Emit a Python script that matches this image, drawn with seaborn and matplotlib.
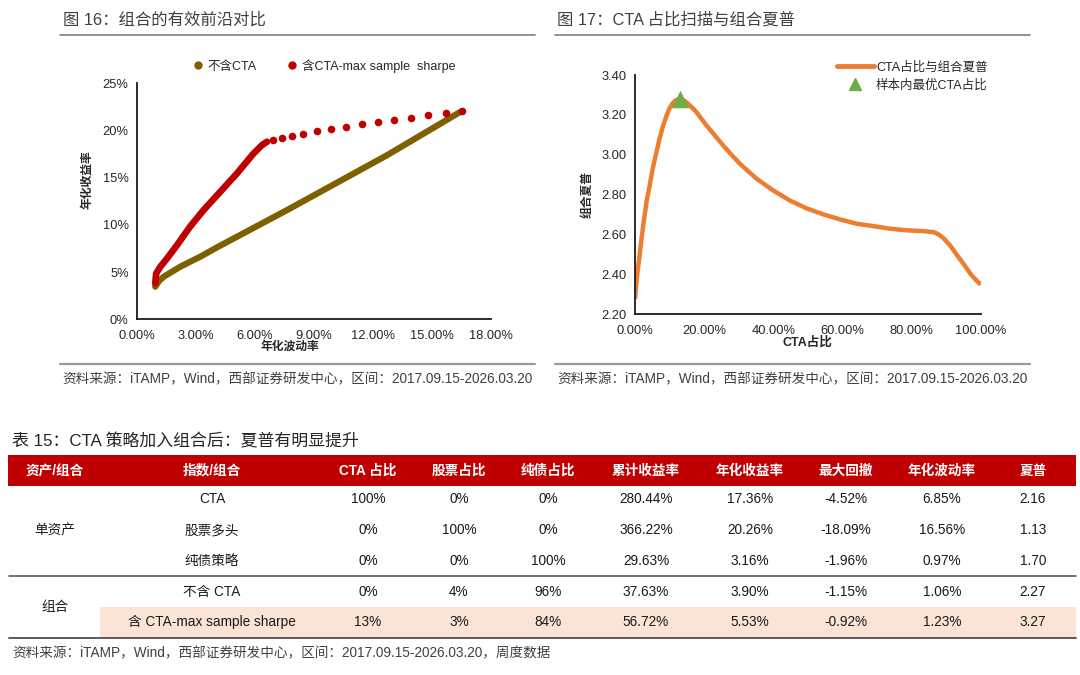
import numpy as np
import pandas as pd
import matplotlib.pyplot as plt
import seaborn as sns
from matplotlib.lines import Line2D
from matplotlib.patches import Rectangle

# ---- chart 16: efficient frontiers (vol %, return %) ----
no_cta_vol = [0.93, 1.10, 1.36, 2.20, 3.22, 4.10, 7.64, 12.74, 16.47]
no_cta_ret = [3.45, 4.00, 4.51, 5.57, 6.63, 7.65, 11.57, 17.39, 21.98]

cta_dense_vol = [0.93, 0.95, 0.98, 1.19, 1.53, 2.04, 2.70, 3.39, 4.24, 5.09, 5.94, 6.37, 6.62]
cta_dense_ret = [3.80, 4.30, 4.87, 5.57, 6.45, 7.86, 9.81, 11.57, 13.51, 15.45, 17.58, 18.46, 18.81]
cta_dot_vol = [6.93, 7.37, 7.90, 8.47, 9.17, 9.88, 10.66, 11.46, 12.26, 13.11, 13.96, 14.84, 15.71, 16.56]
cta_dot_ret = [18.99, 19.17, 19.45, 19.66, 19.91, 20.15, 20.40, 20.65, 20.86, 21.11, 21.32, 21.61, 21.82, 22.07]

# ---- chart 17: CTA weight scan vs sharpe ----
cta_weight = [0.0, 0.29, 0.77, 1.26, 1.94, 2.71, 3.39, 4.16, 5.13, 6.10, 7.07, 8.03, 9.00, 9.97,
              10.94, 11.91, 12.88, 13.84, 14.81, 15.78, 17.72, 20.62, 23.04, 25.46, 27.88, 30.30,
              35.1, 40.0, 44.8, 49.7, 54.5, 59.3, 64.2, 69.0, 73.9, 78.7, 83.5, 86.4, 87.9, 89.4,
              91.3, 93.2, 95.2, 97.1, 99.0, 100.0]
port_sharpe = [2.275, 2.334, 2.418, 2.485, 2.586, 2.687, 2.770, 2.838, 2.930, 3.005, 3.078, 3.140,
               3.190, 3.232, 3.260, 3.274, 3.279, 3.274, 3.264, 3.249, 3.215, 3.148, 3.098, 3.047,
               3.000, 2.955, 2.88, 2.82, 2.77, 2.73, 2.70, 2.675, 2.653, 2.641, 2.628, 2.62, 2.616,
               2.611, 2.599, 2.578, 2.541, 2.494, 2.448, 2.40, 2.364, 2.348]
best_weight = [13.0]
best_sharpe = [3.28]

# ---- table 15 ----
header = ['资产/组合', '指数/组合', 'CTA 占比', '股票占比', '纯债占比',
          '累计收益率', '年化收益率', '最大回撤', '年化波动率', '夏普']
groups = ['单资产', '组合']
names = ['CTA', '股票多头', '纯债策略', '不含 CTA', '含 CTA-max sample sharpe']
cta_w = ['100%', '0%', '0%', '0%', '13%']
stock_w = ['0%', '100%', '0%', '4%', '3%']
bond_w = ['0%', '0%', '100%', '96%', '84%']
cum_ret = ['280.44%', '366.22%', '29.63%', '37.63%', '56.72%']
ann_ret = ['17.36%', '20.26%', '3.16%', '3.90%', '5.53%']
max_dd = ['-4.52%', '-18.09%', '-1.96%', '-1.15%', '-0.92%']
ann_vol = ['6.85%', '16.56%', '0.97%', '1.06%', '1.23%']
sharpe = ['2.16', '1.13', '1.70', '2.27', '3.27']

sns.set_theme(style='white')
plt.rcParams['font.family'] = ['Liberation Sans', 'Noto Sans CJK SC', 'DejaVu Sans']
plt.rcParams['axes.unicode_minus'] = False

W, H = 1080, 675
fig = plt.figure(figsize=(10.8, 6.75), dpi=100)

def rect(l, t, r, b):
    return [l / W, 1 - b / H, (r - l) / W, (b - t) / H]

# overlay for titles, source lines and table
bg = fig.add_axes([0, 0, 1, 1])
bg.set_xlim(0, W)
bg.set_ylim(H, 0)
bg.axis('off')

txt_c = '#404040'
bg.text(63, 20, '图 16：组合的有效前沿对比', fontsize=11.8, color=txt_c, va='center')
bg.text(557, 20, '图 17：CTA 占比扫描与组合夏普', fontsize=11.8, color=txt_c, va='center')
for x0, x1 in [(60, 535), (555, 1030)]:
    bg.plot([x0, x1], [34.5, 34.5], color='#7f7f7f', lw=1.2)
    bg.plot([x0, x1], [364, 364], color='#9a9a9a', lw=1.6)
src = '资料来源：iTAMP，Wind，西部证券研发中心，区间：2017.09.15-2026.03.20'
bg.text(62, 379, src, fontsize=9.8, color=txt_c, va='center')
bg.text(557, 379, src, fontsize=9.8, color=txt_c, va='center')

# ---- left chart ----
ax1 = fig.add_axes(rect(137, 83.3, 490.5, 319.3))
brown, red = '#7F6000', '#C00000'
sns.lineplot(x=no_cta_vol, y=no_cta_ret, ax=ax1, color=brown, lw=4.5, sort=False,
             estimator=None, solid_capstyle='round', solid_joinstyle='round')
sns.lineplot(x=cta_dense_vol, y=cta_dense_ret, ax=ax1, color=red, lw=4.8, sort=False,
             estimator=None, solid_capstyle='round', solid_joinstyle='round')
sns.scatterplot(x=cta_dot_vol, y=cta_dot_ret, ax=ax1, color=red, s=30, linewidth=0, zorder=3)
ax1.set_xlim(0, 18)
ax1.set_ylim(0, 25)
ax1.set_xticks(np.arange(0, 18.1, 3))
ax1.set_xticklabels([f'{v:.2f}%' for v in np.arange(0, 18.1, 3)])
ax1.set_yticks(np.arange(0, 25.1, 5))
ax1.set_yticklabels([f'{v:.0f}%' for v in np.arange(0, 25.1, 5)])
ax1.set_xlabel('')
ax1.set_ylabel('')
fig.text(290 / W, 1 - 347 / H, '年化波动率', fontsize=8.5, fontweight='bold', ha='center', va='center',
         color='#262626')
fig.text(87 / W, 1 - 180 / H, '年化收益率', fontsize=8.5, fontweight='bold', ha='center', va='center',
         rotation=90, color='#262626')
h1 = [Line2D([], [], ls='', marker='o', color=brown, markersize=5),
      Line2D([], [], ls='', marker='o', color=red, markersize=5)]
ax1.legend(h1, ['不含CTA', '含CTA-max sample  sharpe'], loc='center', ncol=2, frameon=False,
           bbox_to_anchor=(323 / W, 1 - 66 / H), bbox_transform=fig.transFigure,
           fontsize=9, handletextpad=0.2, columnspacing=2.2, handlelength=1.2)

# ---- right chart ----
ax2 = fig.add_axes(rect(635, 75, 980.7, 314))
orange, green = '#ED7D31', '#70AD47'
sns.lineplot(x=np.array(cta_weight) / 100, y=port_sharpe, ax=ax2, color=orange, lw=3.2,
             sort=False, estimator=None, solid_joinstyle='round', solid_capstyle='butt')
sns.scatterplot(x=np.array(best_weight) / 100, y=best_sharpe, ax=ax2, color=green, marker='^',
                s=160, linewidth=0, zorder=3)
ax2.set_xlim(0, 1)
ax2.set_ylim(2.2, 3.4)
ax2.set_xticks(np.arange(0, 1.01, 0.2))
ax2.set_xticklabels([f'{v * 100:.2f}%' for v in np.arange(0, 1.01, 0.2)])
ax2.set_yticks(np.arange(2.2, 3.41, 0.2))
ax2.set_yticklabels([f'{v:.2f}' for v in np.arange(2.2, 3.41, 0.2)])
ax2.set_xlabel('')
ax2.set_ylabel('')
fig.text(807 / W, 1 - 343 / H, 'CTA占比', fontsize=9, fontweight='bold', ha='center', va='center',
         color='#262626')
fig.text(588 / W, 1 - 195 / H, '组合夏普', fontsize=8.5, fontweight='bold', ha='center', va='center',
         rotation=90, color='#262626')
h2 = [Line2D([], [], color=orange, lw=3.5),
      Line2D([], [], ls='', marker='^', color=green, markersize=9)]
ax2.legend(h2, ['CTA占比与组合夏普', '样本内最优CTA占比'], loc='upper left', frameon=False,
           bbox_to_anchor=(826 / W, 1 - 50 / H), bbox_transform=fig.transFigure,
           fontsize=9, handlelength=2.9, handletextpad=0.2, labelspacing=0.45)

for ax in (ax1, ax2):
    for s in ('top', 'right'):
        ax.spines[s].set_visible(False)
    for s in ('left', 'bottom'):
        ax.spines[s].set_color('#1a1a1a')
        ax.spines[s].set_linewidth(1.3)
    ax.tick_params(length=0, labelsize=9.3, colors='#262626')
    ax.tick_params(axis='x', pad=8)
    ax.tick_params(axis='y', pad=6)
    ax.set_facecolor('none')

# ---- table ----
bg.text(12, 441, '表 15：CTA 策略加入组合后：夏普有明显提升', fontsize=12.2, color='#262626', va='center')
bg.add_patch(Rectangle((8, 455), 1068, 30.7, color='#C00000', lw=0))
bg.add_patch(Rectangle((100, 606.7), 976, 31, color='#FBE3D6', lw=0))
col_x = [55, 212, 368, 459, 548, 646, 750, 846, 942, 1033]
for cx, lab in zip(col_x, header):
    bg.text(cx, 470.5, lab, fontsize=9.8, color='white', fontweight='bold', ha='center', va='center')
row_y = [499.3, 530, 560.7, 591.7, 622.3]
table = pd.DataFrame({'name': names, 'cta': cta_w, 'stock': stock_w, 'bond': bond_w,
                      'cum': cum_ret, 'ann': ann_ret, 'mdd': max_dd, 'vol': ann_vol, 'sharpe': sharpe})
for ry, (_, row) in zip(row_y, table.iterrows()):
    for cx, val in zip(col_x[1:], row.values):
        bg.text(cx, ry, val, fontsize=9.8, color='#1a1a1a', ha='center', va='center')
bg.text(col_x[0], 530, groups[0], fontsize=9.8, color='#1a1a1a', ha='center', va='center')
bg.text(col_x[0], 607, groups[1], fontsize=9.8, color='#1a1a1a', ha='center', va='center')
bg.plot([9, 1076], [576, 576], color='#595959', lw=1.2)
bg.plot([9, 1076], [638, 638], color='#595959', lw=1.4)
bg.text(12, 653.5, '资料来源：iTAMP，Wind，西部证券研发中心，区间：2017.09.15-2026.03.20，周度数据',
        fontsize=9.8, color=txt_c, va='center')

fig.savefig('out.png', dpi=100)
